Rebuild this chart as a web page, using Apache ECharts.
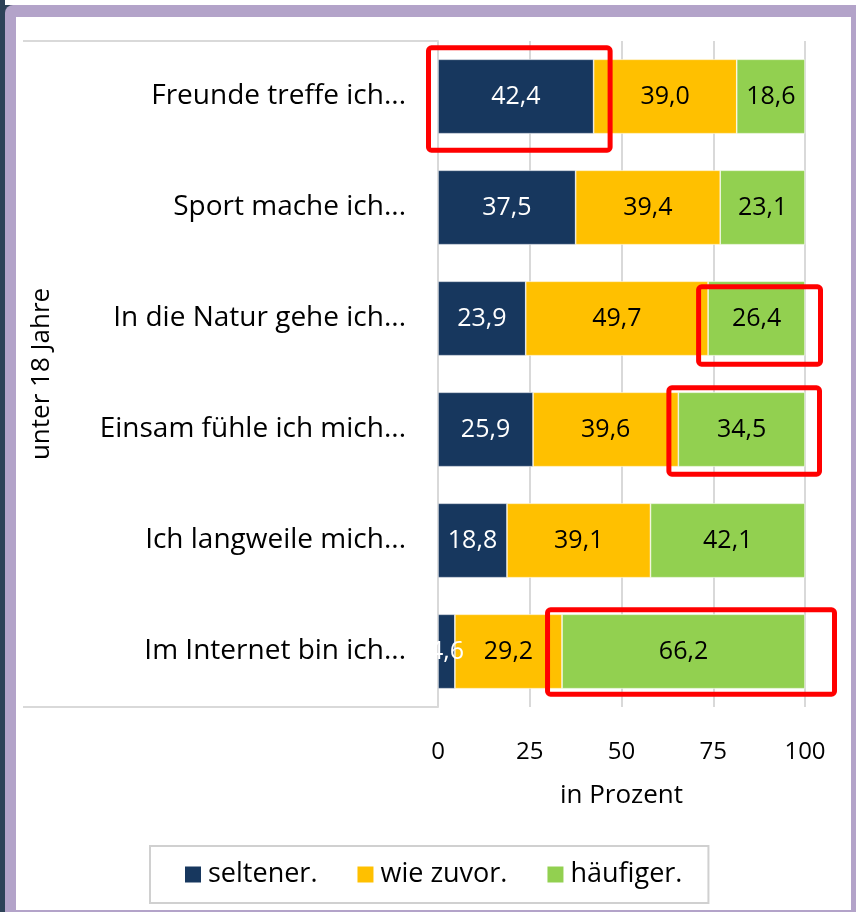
<!DOCTYPE html>
<html>
<head>
<meta charset="utf-8">
<script src="https://cdn.jsdelivr.net/npm/echarts@6/dist/echarts.min.js"></script>
<style>
  html, body { margin: 0; padding: 0; background: #ffffff; }
  #frame { position: absolute; left: 0; top: 0; width: 856px; height: 912px; background: #2d4258; }
  #rim { position: absolute; left: 5px; top: 5px; right: 0; bottom: 0; background: #b3a3c9; border-top-left-radius: 8px; }
  #paper { position: absolute; left: 16px; top: 17px; width: 835px; height: 893px; background: #ffffff; }
  #topwhite { position: absolute; left: 5px; top: 0; right: 0; height: 5px; background: #ffffff; }
  #chart { position: absolute; left: 0; top: 0; width: 856px; height: 912px; }
</style>
</head>
<body>
<div id="frame"><div id="topwhite"></div><div id="rim"></div><div id="paper"></div></div>
<div id="chart"></div>
<script>
/** Freizeit unter 18 Jahre */
var categories = ['Freunde treffe ich...', 'Sport mache ich...', 'In die Natur gehe ich...',
  'Einsam fühle ich mich...', 'Ich langweile mich...', 'Im Internet bin ich...'];
var seltener = [42.4, 37.5, 23.9, 25.9, 18.8, 4.6];
var wieZuvor = [39.0, 39.4, 49.7, 39.6, 39.1, 29.2];
var haeufiger = [18.6, 23.1, 26.4, 34.5, 42.1, 66.2];
var seriesNames = ['seltener.', 'wie zuvor.', 'häufiger.'];
var xTicks = [0, 25, 50, 75, 100];

// red highlight boxes: [row, series], padding [left, top, right, bottom]
var highlights = [[0, 0], [2, 2], [3, 2], [5, 2]];
var highlightPads = [[9.5, 11.5, 16.5, 16.5], [9.5, -5.5, 15.5, 8.5], [9.5, 4.5, 14.5, 7.5], [14.5, 4.5, 29.5, 5.5]];

var FONT = 'Open Sans';
var GRID = { left: 438, top: 41, right: 51, bottom: 205 };
var BAR = '67%';

function fmt(v) { return v.toFixed(1).replace('.', ','); }

function makeSeries(name, data, color, textColor) {
  return {
    name: name,
    type: 'bar',
    stack: 'total',
    barWidth: BAR,
    data: data,
    itemStyle: { color: color, borderColor: '#ffffff', borderWidth: 0.6 },
    label: {
      show: true,
      position: 'inside',
      color: textColor,
      fontFamily: FONT,
      fontSize: 25,
      formatter: function (p) { return fmt(p.value); }
    }
  };
}

var chart = echarts.init(document.getElementById('chart'));
var option = {
  textStyle: { fontFamily: FONT },
  animation: false,
  grid: GRID,
  legend: {
    left: 150,
    top: 846,
    padding: [15, 26, 15, 33],
    borderColor: '#d0d0d0',
    borderWidth: 2,
    backgroundColor: '#ffffff',
    itemWidth: 18,
    itemHeight: 18,
    itemGap: 38,
    icon: 'rect',
    textStyle: { fontFamily: FONT, fontSize: 27, color: '#000000', padding: [0, 0, 0, 1] },
    data: seriesNames
  },
  xAxis: {
    type: 'value',
    min: 0,
    max: 100,
    interval: 25,
    name: 'in Prozent',
    nameLocation: 'middle',
    nameGap: 76,
    nameTextStyle: { fontFamily: FONT, fontSize: 26, color: '#000000' },
    axisLine: { show: false },
    axisTick: { show: false },
    axisLabel: {
      margin: 33,
      fontFamily: FONT,
      fontSize: 24,
      color: '#000000',
      formatter: function (v) { return xTicks.indexOf(v) >= 0 ? String(v) : ''; }
    },
    splitLine: { lineStyle: { color: '#d9d9d9', width: 2 } }
  },
  yAxis: {
    type: 'category',
    inverse: true,
    data: categories,
    name: 'unter 18 Jahre',
    nameLocation: 'middle',
    nameRotate: 90,
    nameGap: 383,
    nameTextStyle: { fontFamily: FONT, fontSize: 26, color: '#000000' },
    axisLine: { show: true, lineStyle: { color: '#d9d9d9', width: 2 } },
    axisTick: { show: false },
    axisLabel: { margin: 32, fontFamily: FONT, fontSize: 28, color: '#000000' }
  },
  series: [
    makeSeries(seriesNames[0], seltener, '#17375e', '#ffffff'),
    makeSeries(seriesNames[1], wieZuvor, '#ffc000', '#000000'),
    makeSeries(seriesNames[2], haeufiger, '#92d050', '#000000')
  ]
};
chart.setOption(option);

// box lines of the outer category level + red highlight boxes
var values = [seltener, wieZuvor, haeufiger];
var gridTop = GRID.top, gridBottom = 912 - GRID.bottom;
var elements = [
  { type: 'line', shape: { x1: 23, y1: gridTop, x2: GRID.left, y2: gridTop }, style: { stroke: '#d9d9d9', lineWidth: 2 } },
  { type: 'line', shape: { x1: 23, y1: gridBottom, x2: GRID.left, y2: gridBottom }, style: { stroke: '#d9d9d9', lineWidth: 2 } }
];
var band = chart.convertToPixel({ gridIndex: 0 }, [0, categories[1]])[1] - chart.convertToPixel({ gridIndex: 0 }, [0, categories[0]])[1];
var halfBar = band * 0.67 / 2;
highlights.forEach(function (h, i) {
  var row = h[0], s = h[1];
  var start = 0;
  for (var k = 0; k < s; k++) start += values[k][row];
  var end = start + values[s][row];
  var p0 = chart.convertToPixel({ gridIndex: 0 }, [start, categories[row]]);
  var p1 = chart.convertToPixel({ gridIndex: 0 }, [end, categories[row]]);
  var pad = highlightPads[i];
  var x = p0[0] - pad[0], y = p0[1] - halfBar - pad[1];
  elements.push({
    type: 'rect',
    z: 100,
    shape: { x: x, y: y, width: p1[0] + pad[2] - x, height: p0[1] + halfBar + pad[3] - y, r: 3 },
    style: { fill: 'none', stroke: '#ff0000', lineWidth: 5 }
  });
});
chart.setOption({ graphic: elements });
</script>
</body>
</html>
